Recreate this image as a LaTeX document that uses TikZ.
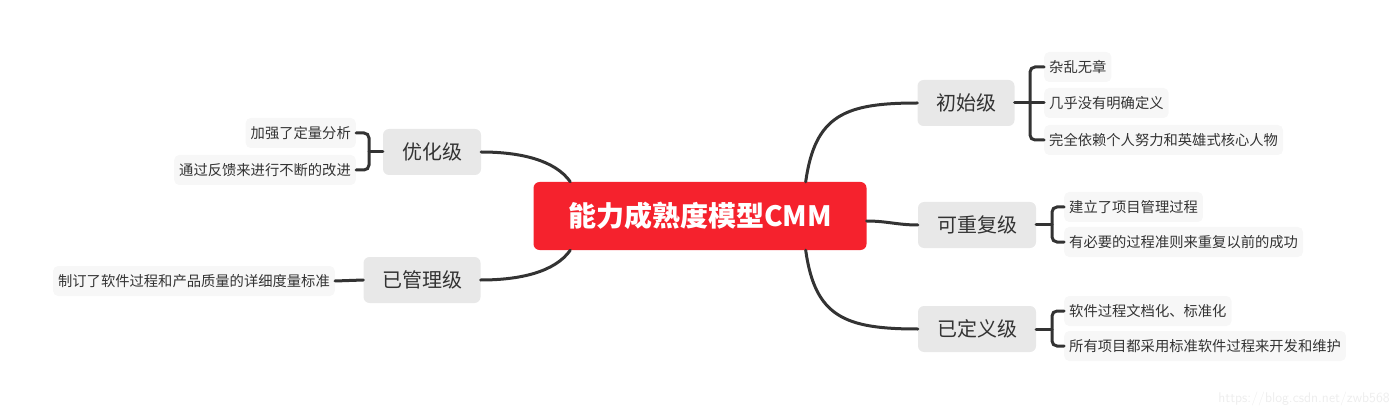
\documentclass[tikz,border=0pt]{standalone}
\usepackage{fontspec}
\newfontfamily\cjk{Noto Sans CJK SC}
\definecolor{rootred}{HTML}{F5222D}
\definecolor{boxgray}{HTML}{E8E8E8}
\definecolor{leafbg}{HTML}{F7F7F7}
\definecolor{linedark}{HTML}{333333}
\definecolor{textdark}{HTML}{333333}
\begin{document}
\begin{tikzpicture}[x=1pt,y=-1pt,
  root/.style={fill=rootred, rounded corners=6pt, text=white, font=\cjk\bfseries\fontsize{28}{30}\selectfont, minimum width=333pt, minimum height=68pt, inner sep=0pt},
  mainbox/.style={fill=boxgray, rounded corners=6pt, text=textdark, font=\cjk\fontsize{20}{22}\selectfont, minimum height=46pt, inner sep=0pt},
  leaf/.style={fill=leafbg, rounded corners=5pt, text=textdark, font=\cjk\fontsize{14.3}{16}\selectfont, minimum height=30pt, inner xsep=5pt, inner ysep=0pt},
  conn/.style={draw=linedark, line width=3pt, line cap=round},
  brk/.style={conn, rounded corners=5pt}]
\useasboundingbox (0,0) rectangle (1400,414);
\node[root] (root) at (700,216) {能力成熟度模型CMM};
\node[mainbox, minimum width=97pt] (n1) at (966,103) {初始级};
\node[mainbox, minimum width=118pt] (n2) at (977,225) {可重复级};
\node[mainbox, minimum width=118pt] (n3) at (977,329) {已定义级};
\node[mainbox, minimum width=98pt] (n4) at (432,152) {优化级};
\node[mainbox, minimum width=117pt] (n5) at (422,280) {已管理级};
\node[leaf, anchor=west] (l11) at (1044,67) {杂乱无章};
\node[leaf, anchor=west] (l12) at (1044,103) {几乎没有明确定义};
\node[leaf, anchor=west] (l13) at (1044,140) {完全依赖个人努力和英雄式核心人物};
\node[leaf, anchor=west] (l21) at (1064,207) {建立了项目管理过程};
\node[leaf, anchor=west] (l22) at (1064,242) {有必要的过程准则来重复以前的成功};
\node[leaf, anchor=west] (l31) at (1064,311) {软件过程文档化、标准化};
\node[leaf, anchor=west] (l32) at (1064,346) {所有项目都采用标准软件过程来开发和维护};
\node[leaf, anchor=east] (l41) at (356,133) {加强了定量分析};
\node[leaf, anchor=east] (l42) at (356,170) {通过反馈来进行不断的改进};
\node[leaf, anchor=east] (l51) at (335,281) {制订了软件过程和产品质量的详细度量标准};
% root connectors
\draw[conn] ([xshift=-61pt]root.north east) .. controls (815,115) and (845,103) .. (n1.west);
\draw[conn] ([yshift=-5pt]root.east) to[out=0,in=180] (n2.west);
\draw[conn] ([xshift=-61pt]root.south east) .. controls (815,317) and (845,329) .. (n3.west);
\draw[conn] ([xshift=37pt]root.north west) .. controls (555,160) and (520,152) .. (n4.east);
\draw[conn] ([xshift=37pt]root.south west) .. controls (555,272) and (520,280) .. (n5.east);
% brackets
\coordinate (b1) at (1030,103);
\coordinate (b2) at (1052,225);
\coordinate (b3) at (1052,329);
\coordinate (b4) at (369,152);
\draw[conn] (n1.east) -- (l12.west);
\draw[brk] (l11.west) -| (b1) |- (l13.west);
\draw[conn] (n2.east) -- (b2);
\draw[brk] (l21.west) -| (b2) |- (l22.west);
\draw[conn] (n3.east) -- (b3);
\draw[brk] (l31.west) -| (b3) |- (l32.west);
\draw[conn] (n4.west) -- (b4);
\draw[brk] (l41.east) -| (b4) |- (l42.east);
\draw[conn] (n5.west) -- (l51.east);
\node[text=black!7, font=\sffamily\fontsize{14}{16}\selectfont, anchor=east, inner sep=0pt] (wm) at (1390,399) {https://blog.csdn.net/zwb568};
\end{tikzpicture}
\end{document}
